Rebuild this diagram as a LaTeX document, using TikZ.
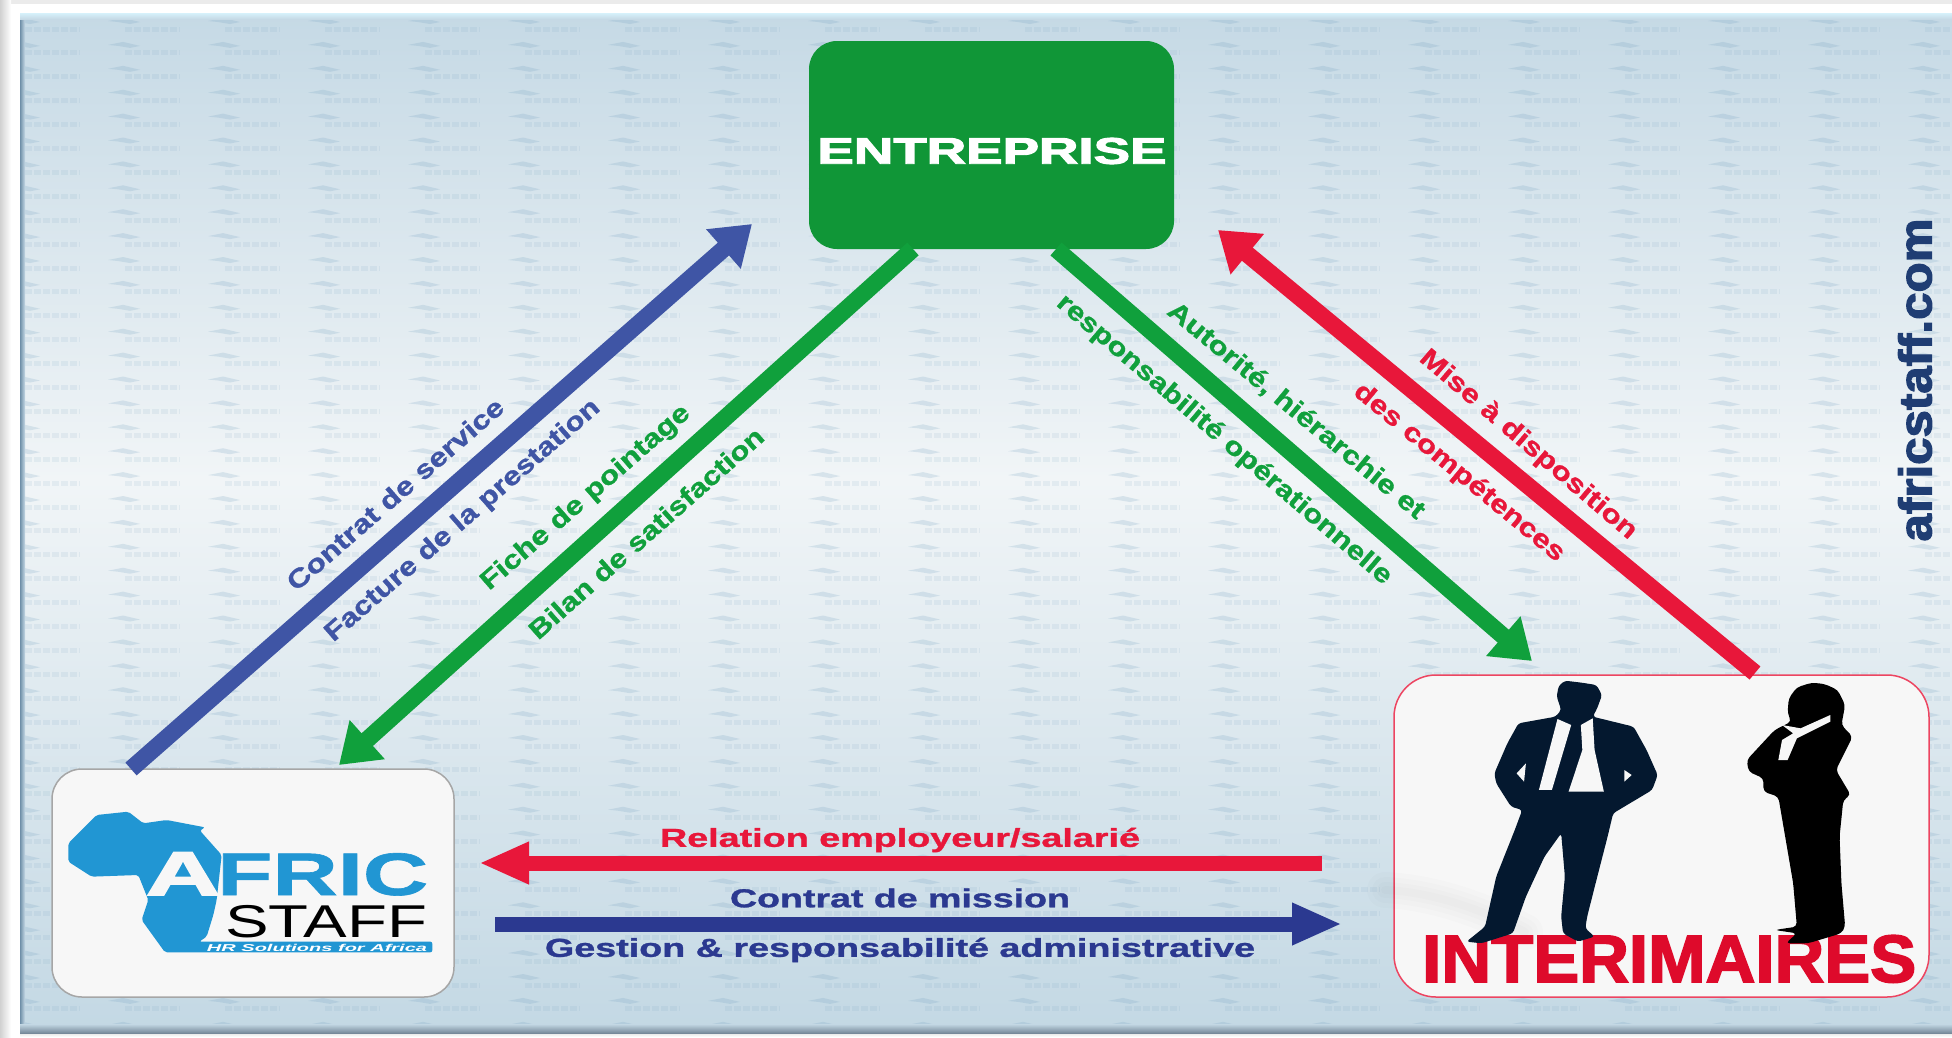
\documentclass[tikz,border=0pt]{standalone}
\usepackage{fontspec}
\usepackage{graphicx}
\setmainfont{Liberation Sans}
\newfontfamily\bb[BoldFeatures={FakeBold=1}]{Liberation Sans}
\newfontfamily\bbb[BoldFeatures={FakeBold=2.5}]{Liberation Sans}
\usetikzlibrary{arrows.meta}
\definecolor{cblue}{HTML}{3F55A5}
\definecolor{cnavy}{HTML}{2B3990}
\definecolor{cgreen}{HTML}{10A03C}
\definecolor{cent}{HTML}{109637}
\definecolor{cred}{HTML}{E8173A}
\definecolor{cbox}{HTML}{F7F7F7}
\definecolor{clogo}{HTML}{2196D3}
\definecolor{cman}{HTML}{04182F}
\definecolor{cint}{HTML}{DE0A2B}
\definecolor{cweb}{HTML}{1F3D73}
\definecolor{bga}{HTML}{C5D9E5}
\definecolor{bgb}{HTML}{F1F5F7}
\definecolor{bgc}{HTML}{C3D8E4}
\definecolor{edgel}{HTML}{6F8FA8}
\definecolor{edgeb}{HTML}{76899A}
\definecolor{edget}{HTML}{D6F1FB}
\definecolor{wm}{HTML}{6F9DBD}
\newcommand{\fitw}[2]{\resizebox{#1pt}{\height}{#2}}
\newcommand{\lab}{\bb\fontsize{26}{28}\selectfont\bfseries}
\tikzset{
  flow/.style={line width=17pt, -{Triangle[length=38pt,width=50pt]}},
  flowh/.style={line width=15pt, -{Triangle[length=50pt,width=39pt]}},
  tlabel/.style={inner sep=0pt, anchor=center, font=\lab},
  roundbox/.style={rounded corners=30pt, inner sep=0pt, line width=1.5pt, fill=cbox},
}
\begin{document}
\begin{tikzpicture}[x=1pt,y=-1pt]
\useasboundingbox (0,0) rectangle (1952,1037);
% page and panel
\fill[white] (0,0) rectangle (1952,1037);
\fill[black!8] (0,0) rectangle (1952,4);
\shade[left color=black!18, right color=white] (0,0) rectangle (11,1037);
\shade[top color=black!22, bottom color=white] (20,1028) rectangle (1952,1037);
\shade[top color=bga, bottom color=bgb] (20,13) rectangle (1952,480);
\shade[top color=bgb, bottom color=bgc] (20,480) rectangle (1952,1032);
\begin{scope}
\clip (20,13) rectangle (1952,1032);
\foreach \i in {0,...,19}{
  \foreach \j in {0,...,42}{
    \fill[wm, opacity=.2]
      ({8+100*\i},{21+23.9*\j}) -- ++(15,-3) -- ++(17,4) -- ++(-10,2) -- ++(-12,-2) -- cycle;
    \draw[wm, opacity=.11, line width=5pt, dash pattern=on 7pt off 2pt]
      ({25+100*\i},{29+23.9*\j}) -- ++(55,0);
  }
}
\end{scope}
\shade[left color=edgel, right color=bga] (20,13) rectangle (25,1032);
\shade[top color=edget, bottom color=bga] (20,13) rectangle (1952,19);
\shade[top color=bgc, bottom color=edgeb] (20,1024) rectangle (1952,1033);
% nodes
\node[fill=cent, rounded corners=28pt, minimum width=365pt, minimum height=208pt, inner sep=0pt] (ent) at (991.5,145) {};
\node[inner sep=0pt, text=white] (enttext) at (992,151) {\bbb\fontsize{37}{40}\selectfont\bfseries\fitw{349}{ENTREPRISE}};
\node[roundbox, draw=black!35, minimum width=402pt, minimum height=228pt] (afr) at (253,883) {};
\node[roundbox, draw=cred!80, minimum width=535pt, minimum height=322pt, rounded corners=42pt] (int) at (1661.5,836) {};
% faint wisp across the lower left of the right box
\foreach \w in {8,16,26,36}{
  \draw[black, opacity=.012, line width=\w pt, line cap=round] (1385,890) .. controls (1430,892) and (1480,908) .. (1525,932);
}
% connector ends
\coordinate (b1) at (131,769);
\coordinate (b2) at (752,224);
\coordinate (g1) at (913,249);
\coordinate (g2) at (339,765);
\coordinate (g3) at (1056,249);
\coordinate (g4) at (1532,661);
\coordinate (r1) at (1755,673);
\coordinate (r2) at (1218,230);
\coordinate (r3) at (1322,863);
\coordinate (r4) at (479,863);
\coordinate (n1) at (495,924);
\coordinate (n2) at (1342,924);
\draw[flow, cblue] (b1) -- (b2);
\draw[flow, cgreen] (g1) -- (g2);
\draw[flow, cgreen] (g3) -- (g4);
\draw[flow, cred] (r1) -- (r2);
\draw[flowh, cred] (r3) -- (r4);
\draw[flowh, cnavy] (n1) -- (n2);
% labels
\node[tlabel, text=cblue, rotate=41] (l1) at (395,494) {\fitw{278}{Contrat de service}};
\node[tlabel, text=cblue, rotate=41] (l2) at (463,521) {\fitw{355}{Facture de la prestation}};
\node[tlabel, text=cgreen, rotate=41] (l3) at (586,498) {\fitw{268}{Fiche de pointage}};
\node[tlabel, text=cgreen, rotate=41.5] (l4) at (646,533) {\fitw{304}{Bilan de satisfaction}};
\node[tlabel, text=cgreen, rotate=-39.5] (l5) at (1296,411) {\fitw{325}{Autorité, hiérarchie et}};
\node[tlabel, text=cgreen, rotate=-40.5] (l6) at (1224,440) {\fitw{432}{responsabilité opérationnelle}};
\node[tlabel, text=cred, rotate=-40.5] (l7) at (1528,445) {\fitw{277}{Mise à disposition}};
\node[tlabel, text=cred, rotate=-39.5] (l8) at (1459,473) {\fitw{265}{des compétences}};
\node[tlabel, text=cred] (l9) at (900,840) {\fitw{480}{Relation employeur/salarié}};
\node[tlabel, text=cnavy] (l10) at (900,898) {\fitw{340}{Contrat de mission}};
\node[tlabel, text=cnavy] (l11) at (900,950) {\fitw{710}{Gestion \& responsabilité administrative}};
\node[inner sep=0pt, text=cweb, rotate=90] (web) at (1915,380) {\bbb\fontsize{46}{48}\selectfont\bfseries\fitw{323}{africstaff.com}};
% logo
\begin{scope}[shift={(0,740)}, x=0.3333pt, y=-0.3333pt]
\fill[clogo, rounded corners=2pt] (205,310) -- (290,225) -- (385,215) -- (430,250) -- (500,240) -- (615,262) -- (600,272) -- (665,345) -- (650,480) -- (640,525) -- (620,590) -- (598,605) -- (1297,605) -- (1297,637) -- (495,637) -- (425,540) -- (445,480) -- (415,405) -- (275,410) -- (205,365) -- cycle;
\end{scope}
\node[anchor=base, inner sep=0pt, text=cbox] (la) at (183,895) {\bbb\fontsize{62}{64}\selectfont\bfseries\fitw{74}{A}};
\node[anchor=base west, inner sep=0pt, text=clogo] (lf) at (217,895) {\bb\fontsize{60}{62}\selectfont\bfseries\fitw{211}{FRIC}};
\node[anchor=base west, inner sep=0pt, text=black] (ls) at (225,937) {\fontsize{46}{48}\selectfont\fitw{202}{STAFF}};
\node[inner sep=0pt, text=white] (lh) at (317,948) {\fontsize{10}{11}\selectfont\bfseries\itshape\fitw{220}{HR Solutions for Africa}};
% interimaires
\node[anchor=base west, inner sep=0pt, text=cint] (it) at (1422,982) {\bbb\fontsize{67}{70}\selectfont\bfseries\fitw{494}{INTERIMAIRES}};
\begin{scope}[shift={(1370,650)}, x=0.3712pt, y=-0.3333pt]
\fill[cman, rounded corners=3pt] (525,92) -- (570,98) -- (610,105) -- (625,135) -- (612,175) -- (600,200) -- (710,230) -- (745,300) -- (775,375) -- (760,420) -- (700,460) -- (655,490) -- (640,560) -- (610,690) -- (585,800) -- (580,835) -- (605,860) -- (560,875) -- (520,850) -- (515,800) -- (525,680) -- (515,550) -- (470,620) -- (420,740) -- (385,850) -- (300,880) -- (260,875) -- (310,830) -- (340,680) -- (390,540) -- (410,480) -- (380,470) -- (340,400) -- (335,370) -- (370,280) -- (400,220) -- (500,200) -- (515,180) -- (503,140) -- (508,108) -- cycle;
\fill[cbox] (505,207) -- (542,225) -- (490,420) -- (455,420) -- cycle;
\fill[cbox] (568,225) -- (600,205) -- (605,300) -- (630,425) -- (535,425) -- (572,300) -- cycle;
\fill[cbox] (420,340) -- (395,370) -- (415,395) -- cycle;
\fill[cbox] (685,360) -- (705,375) -- (685,395) -- cycle;
\fill[black, rounded corners=4pt] (1190,98) -- (1150,112) -- (1128,145) -- (1125,190) -- (1135,215) -- (1090,240) -- (1015,330) -- (1020,365) -- (1060,385) -- (1060,425) -- (1100,440) -- (1120,570) -- (1140,700) -- (1150,830) -- (1090,840) -- (1150,850) -- (1120,880) -- (1180,880) -- (1270,850) -- (1280,830) -- (1270,700) -- (1265,560) -- (1275,450) -- (1295,435) -- (1255,360) -- (1300,260) -- (1270,225) -- (1280,165) -- (1260,120) -- (1225,102) -- cycle;
\fill[cbox] (1110,225) -- (1160,235) -- (1240,195) -- (1240,215) -- (1150,265) -- (1125,330) -- (1100,330) -- (1110,270) -- (1140,250) -- cycle;
\end{scope}
\end{tikzpicture}
\end{document}
